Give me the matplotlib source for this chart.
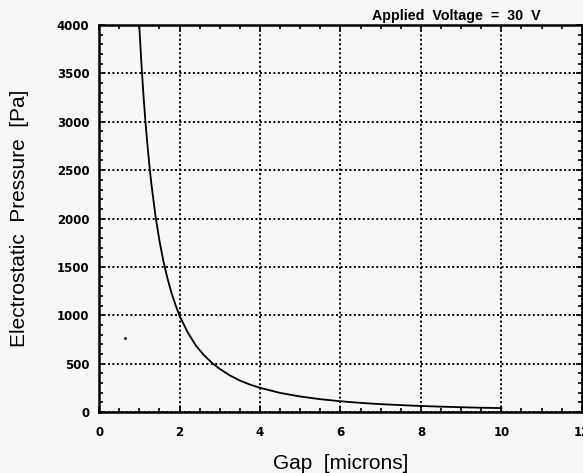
import matplotlib
matplotlib.use("Agg")
import matplotlib.pyplot as plt
from matplotlib.ticker import MultipleLocator

# values
gap_um = [1.0, 1.05, 1.1, 1.15, 1.2, 1.25, 1.3, 1.4, 1.5, 1.6, 1.7, 1.8, 1.9, 2.0,
          2.2, 2.4, 2.6, 2.8, 3.0, 3.25, 3.5, 3.75, 4.0, 4.5, 5.0, 5.5, 6.0,
          6.5, 7.0, 7.5, 8.0, 8.5, 9.0, 9.5, 10.0]
pressure_pa = [3985, 3615, 3290, 3010, 2765, 2550, 2355, 2030, 1770, 1555, 1380,
               1230, 1105, 995, 825, 690, 590, 510, 445, 378, 325, 283, 250,
               197, 160, 132, 111, 94, 81, 71, 62, 55, 49, 44, 40]
speck = ([0.65], [765])

plt.rcParams["font.family"] = ["Liberation Sans", "DejaVu Sans"]

fig = plt.figure(figsize=(5.83, 4.73), dpi=100, facecolor="#f7f7f7")
ax = fig.add_axes([0.170, 0.129, 0.828, 0.818])
ax.set_facecolor("#f7f7f7")

ax.plot(gap_um, pressure_pa, color="black", lw=1.3)
ax.plot(*speck, ".", color="black", ms=2)

ax.set_xlim(0, 12)
ax.set_ylim(0, 4000)
ax.xaxis.set_major_locator(MultipleLocator(2))
ax.xaxis.set_minor_locator(MultipleLocator(0.5))
ax.yaxis.set_major_locator(MultipleLocator(500))
ax.yaxis.set_minor_locator(MultipleLocator(100))
ax.tick_params(which="both", direction="in", top=True, right=True, width=1.2)
ax.tick_params(which="major", length=4)
ax.tick_params(which="minor", length=3)
for lab in ax.get_xticklabels() + ax.get_yticklabels():
    lab.set_fontweight("bold")
    lab.set_family("DejaVu Sans")
    lab.set_fontsize(8.5)
ax.tick_params(axis="x", pad=10)
ax.tick_params(axis="y", pad=7)

ax.grid(True, which="major", color="black", linestyle=(0, (1, 1.3)), lw=1.4)
for s in ax.spines.values():
    s.set_linewidth(1.8)

ax.set_xlabel("Gap  [microns]", fontsize=15, labelpad=11)
ax.set_ylabel("Electrostatic  Pressure  [Pa]", fontsize=15, labelpad=20)
ax.set_title("Applied  Voltage  =  30  V", fontsize=10.3, fontweight="bold",
             loc="right", x=0.915, pad=4)

fig.savefig("out.png", dpi=100, facecolor=fig.get_facecolor())
